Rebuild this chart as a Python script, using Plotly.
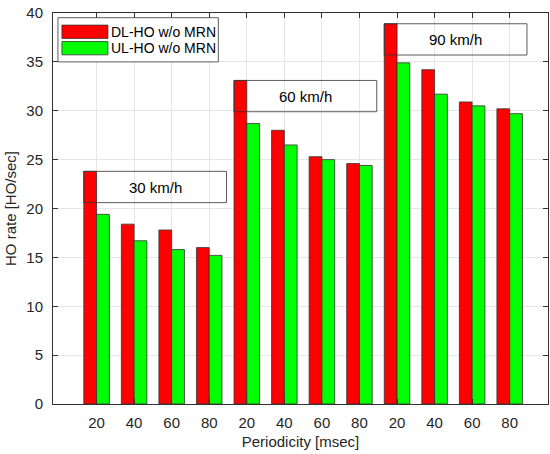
import plotly.graph_objects as go

periods = ["20", "40", "60", "80"] * 3
speeds = ["30 km/h", "60 km/h", "90 km/h"]
dl_ho = [23.8, 18.4, 17.8, 16.0, 33.1, 28.0, 25.3, 24.6, 38.9, 34.2, 30.9, 30.2]
ul_ho = [19.4, 16.7, 15.8, 15.2, 28.7, 26.5, 25.0, 24.4, 34.9, 31.7, 30.5, 29.7]
series_names = ["DL-HO w/o MRN", "UL-HO w/o MRN"]
colors = ["#ff0000", "#00ff00"]

x = list(range(1, len(periods) + 1))
font = "Liberation Sans, Arial, sans-serif"
txt = "#262626"

fig = go.Figure()
for name, vals, c in zip(series_names, [dl_ho, ul_ho], colors):
    fig.add_trace(go.Bar(x=x, y=vals, name=name, marker=dict(color=c, line=dict(color="#333333", width=0.8)),
                         showlegend=False))

half = 0.34
box_w = 3.8
box_h = 3.2
for i, sp in enumerate(speeds):
    gi = i * 4
    x0 = x[gi] - half
    top = dl_ho[gi]
    fig.add_shape(type="rect", xref="x", yref="y", x0=x0, x1=x0 + box_w, y0=top - box_h, y1=top,
                  line=dict(color="#333333", width=0.8), fillcolor="rgba(0,0,0,0)", layer="above")
    fig.add_annotation(x=x0 + box_w / 2, y=top - box_h / 2, xref="x", yref="y", text=sp, showarrow=False,
                       font=dict(family=font, size=15, color="#000000"))

# legend box (manual, MATLAB style)
fig.add_shape(type="rect", xref="paper", yref="paper", x0=0.010, x1=0.334, y0=0.875, y1=0.988,
              line=dict(color="#333333", width=0.8), fillcolor="white", layer="above")
for j, (name, c) in enumerate(zip(series_names, colors)):
    yc = 0.952 - j * 0.042
    fig.add_shape(type="rect", xref="paper", yref="paper", x0=0.018, x1=0.111, y0=yc - 0.017, y1=yc + 0.017,
                  line=dict(color="#333333", width=0.8), fillcolor=c, layer="above")
    fig.add_annotation(x=0.113, y=yc, xref="paper", yref="paper", text=name, showarrow=False,
                       xanchor="left", yanchor="middle", font=dict(family=font, size=14, color="#000000"))

fig.update_layout(
    width=550, height=454,
    margin=dict(l=53, r=2, t=13, b=50),
    paper_bgcolor="white", plot_bgcolor="white",
    barmode="group", bargap=0.32, bargroupgap=0,
    font=dict(family=font, size=15, color=txt),
)
fig.update_xaxes(range=[-0.16, 13.02], tickvals=x, ticktext=periods, showgrid=True, gridcolor="#e6e6e6",
                 gridwidth=1, showline=True, linecolor="#333333", linewidth=1, mirror="ticks",
                 ticks="inside", ticklen=5, tickcolor="#333333", zeroline=False,
                 ticklabelstandoff=5,
                 title=dict(text="Periodicity [msec]", font=dict(size=15, color=txt), standoff=6),
                 tickfont=dict(size=15, color=txt))
fig.update_yaxes(range=[0, 40], dtick=5, showgrid=True, gridcolor="#e6e6e6", gridwidth=1,
                 showline=True, linecolor="#333333", linewidth=1, mirror="ticks",
                 ticks="inside", ticklen=5, tickcolor="#333333", zeroline=False,
                 ticklabelstandoff=6,
                 title=dict(text="HO rate [HO/sec]", font=dict(size=15, color=txt), standoff=6),
                 tickfont=dict(size=15, color=txt))

fig.write_html("out.html")
